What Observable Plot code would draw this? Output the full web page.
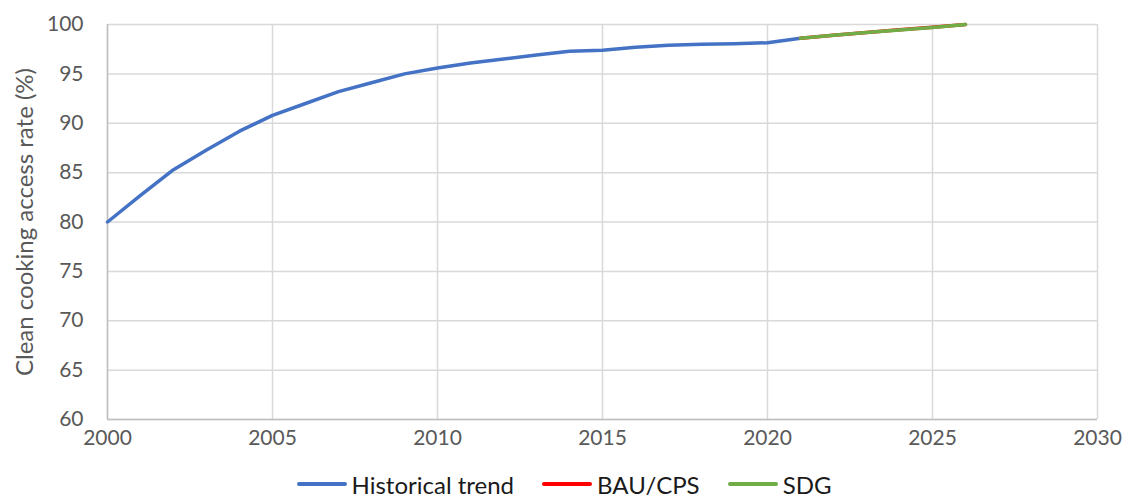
<!DOCTYPE html>
<html>
<head>
<meta charset="utf-8">
<script src="https://cdn.jsdelivr.net/npm/d3@7"></script>
<script src="https://cdn.jsdelivr.net/npm/@observablehq/plot@0.6"></script>
<style>
  html, body { margin: 0; padding: 0; background: #fff; }
  body { width: 1128px; height: 497px; overflow: hidden; font-family: Lato, "Open Sans", sans-serif; }
  #legend { display: flex; justify-content: center; align-items: center; height: 42px; padding-top: 8px; font-size: 24px; color: #1a1a1a; margin-left: 0px; }
  .item { display: flex; align-items: center; margin: 0 14px; }
  .sw { width: 50px; height: 4px; border-radius: 2px; margin-right: 5px; }
</style>
</head>
<body>
<div id="chart"></div>
<div id="legend"></div>
<script>
const histYears = [2000,2001,2002,2003,2004,2005,2006,2007,2008,2009,2010,2011,2012,2013,2014,2015,2016,2017,2018,2019,2020,2021];
const histValues = [80.0,82.7,85.3,87.3,89.2,90.8,92.0,93.2,94.1,95.0,95.6,96.1,96.5,96.9,97.3,97.4,97.7,97.9,98.0,98.05,98.15,98.6];
const projYears = [2021,2022,2023,2024,2025,2026];
const bauValues = [98.6,98.92,99.2,99.47,99.72,100.0];
const sdgValues = [98.6,98.9,99.18,99.45,99.7,100.0];
const xTicks = [2000,2005,2010,2015,2020,2025,2030];
const yTicks = [60,65,70,75,80,85,90,95,100];
const seriesNames = ["Historical trend","BAU/CPS","SDG"];
const seriesColors = ["#4472C4","#FF0000","#70AD47"];

const hist = histYears.map((y,i)=>({year:y, value:histValues[i]}));
const bau = projYears.map((y,i)=>({year:y, value:bauValues[i]}));
const sdg = projYears.map((y,i)=>({year:y, value:sdgValues[i]}));

const plot = Plot.plot({
  width: 1128,
  height: 455,
  marginLeft: 107,
  marginRight: 31,
  marginTop: 24,
  marginBottom: 36,
  style: {fontFamily: "Lato, 'Open Sans', sans-serif", fontSize: "21px", color: "#595959", background: "#fff", overflow: "visible"},
  x: {domain: [2000, 2030], ticks: xTicks, tickFormat: d => String(d), tickSize: 0, tickPadding: 11, label: null},
  y: {domain: [60, 100], ticks: yTicks, tickSize: 0, tickPadding: 24, label: null},
  marks: [
    Plot.gridX(xTicks, {stroke: "#d9d9d9", strokeOpacity: 1, strokeWidth: 1.5}),
    Plot.gridY(yTicks, {stroke: "#d9d9d9", strokeOpacity: 1, strokeWidth: 1.5}),
    Plot.ruleX([2000], {stroke: "#bfbfbf", strokeWidth: 1.5}),
    Plot.ruleY([60], {stroke: "#bfbfbf", strokeWidth: 1.5}),
    Plot.axisX({ticks: xTicks, tickFormat: d => String(d), tickSize: 0, tickPadding: 11, fontSize: 21, fill: "#595959", label: null}),
    Plot.axisY({ticks: yTicks, tickSize: 0, tickPadding: 24, fontSize: 21, fill: "#595959", label: null}),
    Plot.line(hist, {x: "year", y: "value", stroke: seriesColors[0], strokeWidth: 3.5}),
    Plot.line(bau, {x: "year", y: "value", stroke: seriesColors[1], strokeWidth: 3.5}),
    Plot.line(sdg, {x: "year", y: "value", stroke: seriesColors[2], strokeWidth: 3.5}),
    Plot.text(["Clean cooking access rate (%)"], {frameAnchor: "left", textAnchor: "middle", dx: -82, rotate: -90, fontSize: 24, fill: "#595959"})
  ]
});
document.getElementById("chart").appendChild(plot);

const legend = document.getElementById("legend");
seriesNames.forEach((n,i)=>{
  const it = document.createElement("div"); it.className = "item";
  const sw = document.createElement("div"); sw.className = "sw"; sw.style.background = seriesColors[i];
  const t = document.createElement("span"); t.textContent = n;
  it.appendChild(sw); it.appendChild(t); legend.appendChild(it);
});
</script>
</body>
</html>
